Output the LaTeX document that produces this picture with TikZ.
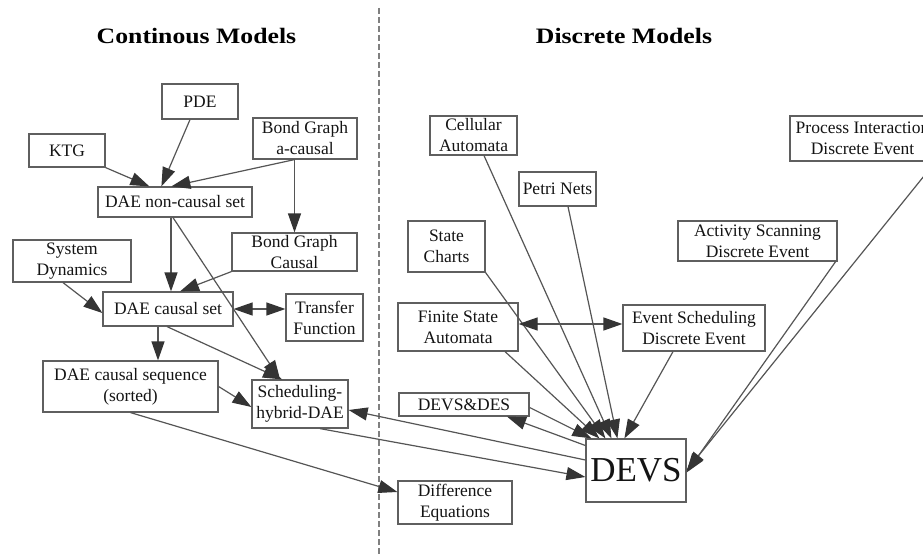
\documentclass[tikz,border=0pt]{standalone}
\usepackage{fontspec}
\setmainfont{Liberation Serif}
\usepackage{graphicx}
\usetikzlibrary{arrows.meta,calc}
\definecolor{edgecol}{RGB}{85,85,85}
\definecolor{headcol}{RGB}{52,52,52}
\definecolor{boxcol}{RGB}{95,95,95}
\definecolor{txtcol}{RGB}{20,20,20}
\definecolor{dashcol}{RGB}{128,128,128}
\tikzset{
  box/.style={draw=boxcol, line width=1.2pt, fill=white, align=center, inner sep=0pt,
    text=txtcol, font=\fontsize{17.5}{21}\selectfont},
  tip/.tip={Triangle[length=19pt,width=13pt,color=headcol]},
  edge/.style={draw=edgecol, line width=1.2pt, -tip},
  bi/.style={draw=edgecol, line width=1.2pt, tip-tip},
  title/.style={font=\fontsize{22}{26}\selectfont\bfseries, text=black},
  divider/.style={draw=dashcol, line width=1.5pt, dash pattern=on 6pt off 3pt}
}
\begin{document}
\begin{tikzpicture}[x=1pt,y=-1pt]
\useasboundingbox (0,0) rectangle (923,556);
\clip (0,0) rectangle (923,556);
\fill[white] (0,0) rectangle (923,556);

% titles and divider
\node[title, anchor=base] (t1) at (196.5,44) {\scalebox{1.17}[1]{Continous Models}};
\node[title, anchor=base] (t2) at (624,44) {\scalebox{1.17}[1]{Discrete Models}};
\coordinate (dtop) at (379,8);
\coordinate (dbot) at (379,556);
\draw[divider] (dtop) -- (dbot);

% continuous side
\node[box, minimum width=76pt, minimum height=35pt] (pde) at (200,101.5) {PDE};
\node[box, minimum width=76pt, minimum height=33pt] (ktg) at (67,150.5) {KTG};
\node[box, minimum width=104pt, minimum height=41pt] (bga) at (305,138.5) {Bond Graph\\a-causal};
\node[box, minimum width=154pt, minimum height=30pt] (daenc) at (175,202) {DAE non-causal set};
\node[box, minimum width=125pt, minimum height=38pt] (bgc) at (294.5,252) {Bond Graph\\Causal};
\node[box, minimum width=118pt, minimum height=42pt] (sysdyn) at (72,261) {System\\Dynamics};
\node[box, minimum width=130pt, minimum height=34pt] (daecs) at (168,309) {DAE causal set};
\node[box, minimum width=77pt, minimum height=47pt] (tf) at (324.5,317.5) {Transfer\\Function};
\node[box, minimum width=175pt, minimum height=51pt] (daeseq) at (130.5,386.5) {DAE causal sequence\\(sorted)};
\node[box, minimum width=96pt, minimum height=48pt] (sched) at (300,404) {Scheduling-\\hybrid-DAE};

% discrete side
\node[box, minimum width=87pt, minimum height=39pt] (cell) at (473.5,135.5) {Cellular\\Automata};
\node[box, minimum width=77pt, minimum height=34pt] (petri) at (557.5,189) {Petri Nets};
\node[box, minimum width=77pt, minimum height=51pt] (state) at (446.5,246.5) {State\\Charts};
\node[box, minimum width=145pt, minimum height=45pt] (proc) at (862.5,138.5) {Process Interaction\\Discrete Event};
\node[box, minimum width=159pt, minimum height=40pt] (act) at (757.5,241) {Activity Scanning\\Discrete Event};
\node[box, minimum width=120pt, minimum height=48pt] (fsa) at (458,327) {Finite State\\Automata};
\node[box, minimum width=142pt, minimum height=46pt] (evs) at (694,328) {Event Scheduling\\Discrete Event};
\node[box, minimum width=130pt, minimum height=23pt] (devsdes) at (464,404.5) {DEVS\&DES};
\node[box, minimum width=100pt, minimum height=63pt, font=\fontsize{35}{40}\selectfont] (devs) at (636,470.5) {DEVS};
\node[box, minimum width=114pt, minimum height=43pt] (diff) at (455,502.5) {Difference\\Equations};

% continuous edges
\coordinate (bgaout) at (bga.south -| bgc.north);
\draw[edge] (ktg.south east) -- ($(daenc.north west)+(52,0)$);
\draw[edge] ($(pde.south)+(-10,0)$) -- ($(daenc.north west)+(64,0)$);
\draw[edge] (bgaout) -- ($(daenc.north west)+(74,0)$);
\draw[edge] (bgaout) -- (bgc.north);
\draw[edge] ($(daenc.south)+(-4,0)$) -- ($(daecs.north)+(3,0)$);
\draw[edge] ($(daenc.south)+(-2,0)$) -- ($(sched.north)+(-20,0)$);
\draw[edge] (bgc.south west) -- ($(daecs.north)+(12,0)$);
\draw[edge] ($(sysdyn.south)+(-9,0)$) -- ($(daecs.west)+(0,4)$);
\draw[bi] (daecs.east) -- (daecs.east -| tf.west);
\draw[edge] ($(daecs.south)+(-10,0)$) -- ($(daeseq.north)+(27.5,0)$);
\draw[edge] ($(daecs.south)+(-1,0)$) -- ($(sched.north)+(-18,0)$);
\draw[edge] (daeseq.east) -- ($(sched.west)+(0,3)$);
\draw[edge] (daeseq.south) -- ($(diff.west)+(0,-10.5)$);
\draw[edge] ($(devs.west)+(0,-10.5)$) -- ($(sched.east)+(0,6)$);
\draw[edge] ($(sched.south)+(20,0)$) -- ($(devs.west)+(0,6.5)$);

% discrete edges
\coordinate (fsaR) at ($(fsa.east)+(0,-3)$);
\draw[edge] ($(devs.west)+(0,-25)$) -- ($(devsdes.south)+(43,0)$);
\draw[edge] ($(devsdes.east)+(0,3)$) -- ($(devs.north west)+(6,0)$);
\draw[edge] ($(fsa.south)+(47,0)$) -- ($(devs.north west)+(14,0)$);
\draw[edge] (state.south east) -- ($(devs.north west)+(20,0)$);
\draw[edge] ($(cell.south)+(10.5,0)$) -- ($(devs.north west)+(26,0)$);
\draw[edge] ($(petri.south)+(10.5,0)$) -- ($(devs.north west)+(32,0)$);
\draw[edge] ($(evs.south)+(-21,0)$) -- ($(devs.north west)+(39,0)$);
\draw[bi] (fsaR) -- (fsaR -| evs.west);
\draw[edge] ($(act.south east)+(-2,0)$) -- ($(devs.east)+(0,2)$);
\draw[edge] (proc.south east) -- (devs.east);
\end{tikzpicture}
\end{document}
